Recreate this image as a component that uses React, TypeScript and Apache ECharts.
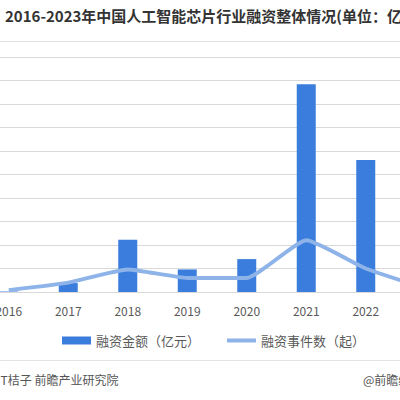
import React, { useEffect, useRef } from 'react';
import * as echarts from 'echarts';

const years = ['2016', '2017', '2018', '2019', '2020', '2021', '2022', '2023'];
const amounts = [1, 19, 111, 48, 70, 442, 281, 150];
const events = [2, 10, 24, 15, 15, 55, 25, 4];
const titleText = '2016-2023年中国人工智能芯片行业融资整体情况(单位：亿元，起)';
const sourceText = '来源：IT桔子 前瞻产业研究院';
const brandText = '@前瞻经济学人';
const barName = '融资金额（亿元）';
const lineName = '融资事件数（起）';

const FONT = '"Noto Sans CJK SC", "Noto Sans", sans-serif';
const OFFSET = 60;

export default function App() {
  const ref = useRef<HTMLDivElement>(null);
  useEffect(() => {
    if (!ref.current) return;
    const chart = echarts.init(ref.current, undefined, { renderer: 'svg' });
    chart.setOption({
      animation: false,
      backgroundColor: '#ffffff',
      textStyle: { fontFamily: FONT },
      grid: { left: 39, right: 45, top: 57, bottom: 108, containLabel: false, outerBoundsMode: 'none' },
      legend: {
        left: 117,
        top: 329,
        itemWidth: 29,
        itemHeight: 8,
        itemGap: 27,
        symbolKeepAspect: true,
        textStyle: { fontSize: 13, color: '#595959', fontFamily: FONT },
        data: [
          { name: barName, icon: 'rect' },
          { name: lineName, icon: 'path://M0,0H29V4H0Z', itemStyle: { color: '#8db3e8', borderWidth: 0 } },
        ],
      },
      xAxis: {
        type: 'category',
        data: years,
        axisLine: { lineStyle: { color: '#d9d9d9' } },
        axisTick: { show: false },
        axisLabel: { fontSize: 12, color: '#595959', margin: 12, fontFamily: FONT },
      },
      yAxis: [
        {
          type: 'value',
          min: 0,
          max: 500,
          interval: 50,
          axisLabel: { show: false },
          axisLine: { show: false },
          axisTick: { show: false },
          splitLine: { lineStyle: { color: '#d9d9d9', width: 1 } },
        },
        {
          type: 'value',
          min: 0,
          max: 250,
          interval: 25,
          axisLabel: { show: false },
          axisLine: { show: false },
          axisTick: { show: false },
          splitLine: { show: false },
        },
      ],
      series: [
        {
          name: barName,
          type: 'bar',
          data: amounts,
          barWidth: 19,
          itemStyle: { color: '#3b7ddd' },
        },
        {
          name: lineName,
          type: 'line',
          yAxisIndex: 1,
          data: events,
          smooth: 0.15,
          symbol: 'none',
          lineStyle: { color: '#8db3e8', width: 4 },
          itemStyle: { color: '#8db3e8' },
        },
      ],
      graphic: [
        {
          type: 'text',
          left: 5 + OFFSET,
          top: 8,
          style: { text: titleText, fontSize: 15, fontWeight: 'bold', fill: '#333333', fontFamily: FONT },
        },
        {
          type: 'line',
          shape: { x1: 0, y1: 41.5, x2: 560, y2: 41.5 },
          style: { stroke: '#e3e3e3', lineWidth: 1 },
        },
        {
          type: 'line',
          shape: { x1: 0, y1: 360.5, x2: 560, y2: 360.5 },
          style: { stroke: '#e3e3e3', lineWidth: 1 },
        },
        {
          type: 'text',
          left: 21,
          top: 373,
          style: { text: sourceText, fontSize: 12, fill: '#555555', fontFamily: FONT },
        },
        {
          type: 'text',
          left: 363 + OFFSET,
          top: 373,
          style: { text: brandText, fontSize: 12, fill: '#555555', fontFamily: FONT },
        },
      ],
    });
    return () => chart.dispose();
  }, []);
  return (
    <div
      ref={ref}
      style={{ position: 'fixed', left: -OFFSET, top: 0, width: 560, height: 400 }}
    />
  );
}
